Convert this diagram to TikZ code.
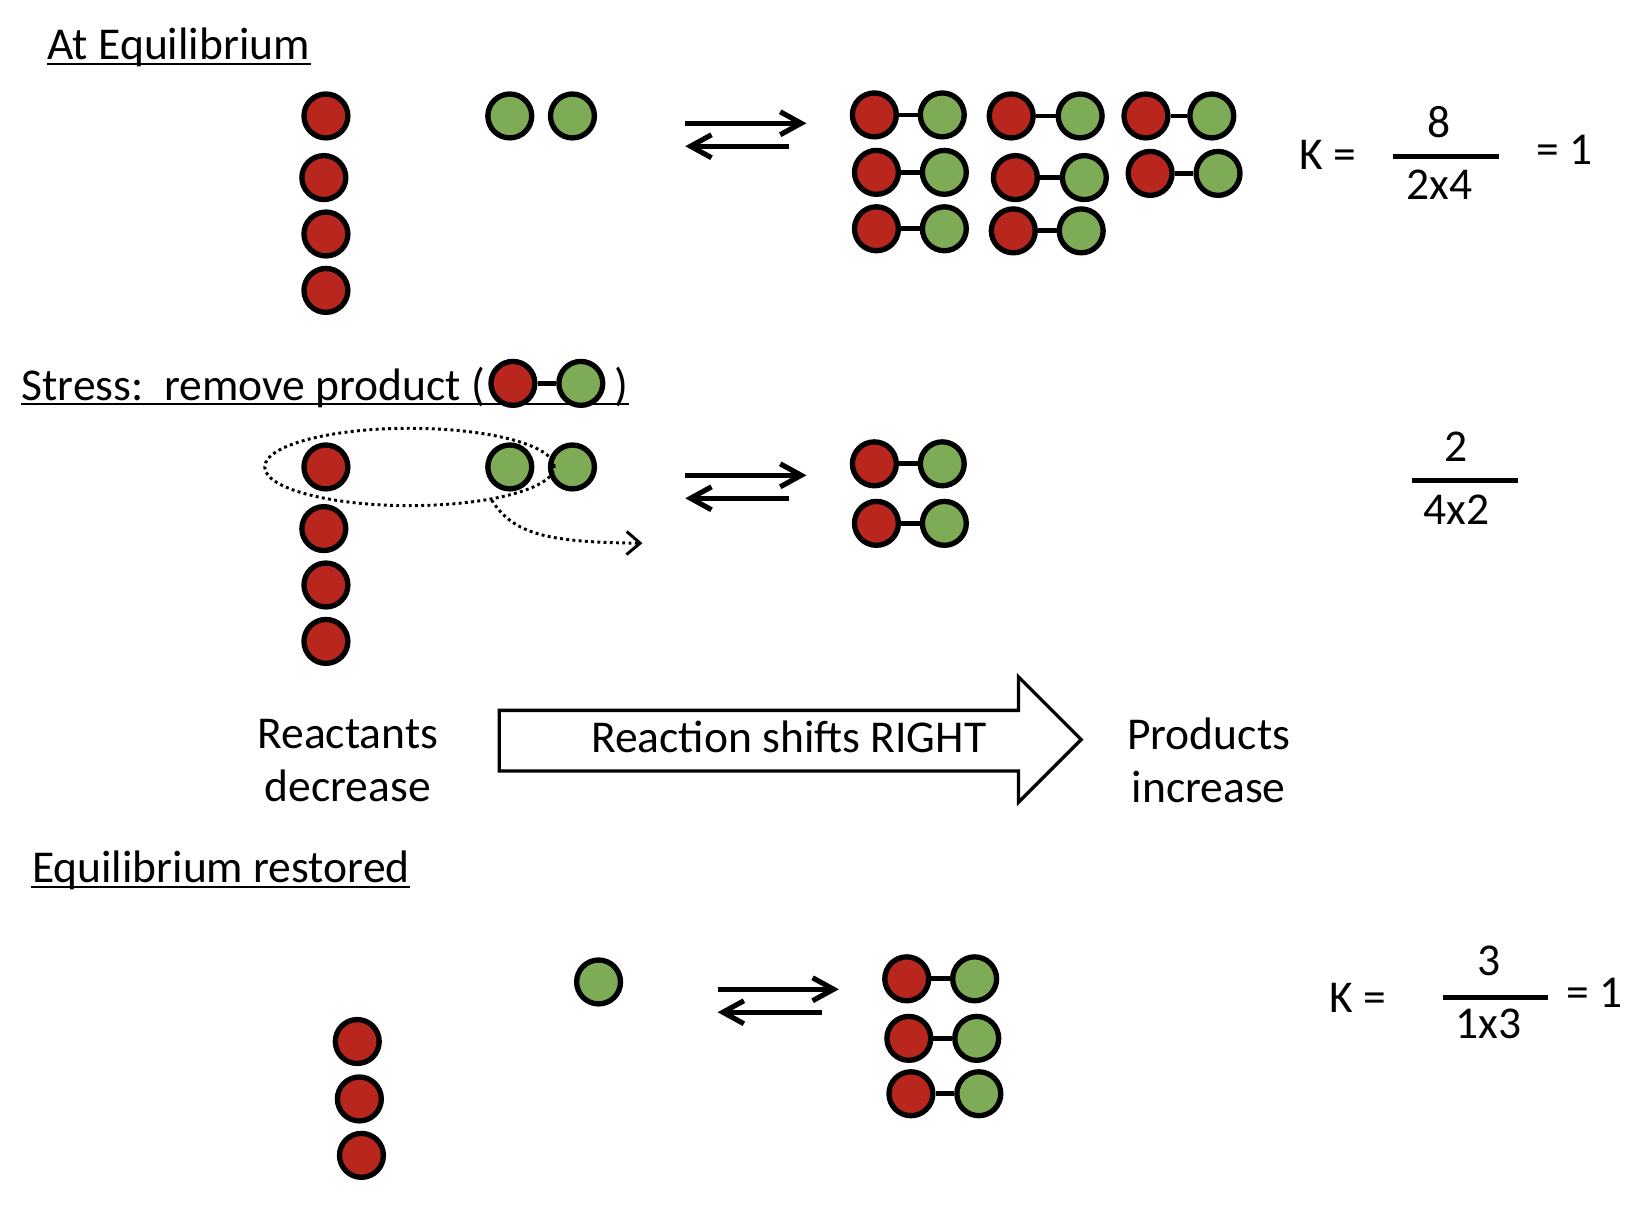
\documentclass[tikz,border=0pt]{standalone}
\usepackage{fontspec}
\setmainfont{Carlito}
\usetikzlibrary{arrows.meta}
\usetikzlibrary{shapes.geometric}
\definecolor{atomred}{HTML}{B9261D}
\definecolor{atomgreen}{HTML}{7EAB55}

\begin{document}
\frenchspacing
\begin{tikzpicture}[x=0.01cm, y=-0.01cm,
  font=\fontsize{12.4}{14.5}\selectfont,
  atom/.style={draw, circle, line width=1.45pt, minimum size=0.42cm, inner sep=0pt},
  red atom/.style={atom, fill=atomred},
  green atom/.style={atom, fill=atomgreen},
  bond/.style={line width=1.3pt},
  eqarrow/.style={line width=1.4pt, -{Straight Barb[length=0.2cm, width=0.22cm]}},
  heading/.style={anchor=base west, inner sep=0pt},
  uline/.style={line width=0.6pt},
  fracbar/.style={line width=1.2pt},
  dotline/.style={line width=0.8pt, dash pattern=on 0.8pt off 0.9pt}]
  \useasboundingbox (0,0) rectangle (1568,1161);

  % at equilibrium
  \node[heading] (headA) at (45,57) {At Equilibrium};
  \draw[uline] ([yshift=-1.15pt]headA.base west) -- ([yshift=-1.15pt]headA.base east);
  \foreach \x/\y [count=\i] in {312/111, 310/170, 312/224, 312/278}
    \node[red atom] (redA\i) at (\x,\y) {};
  \node[green atom] (greenA1) at (488,111) {};
  \node[green atom] (greenA2) at (548,111) {};
  \foreach \xr/\yr/\xg/\yg [count=\i] in {837/110/902/110, 968/111/1034/111,
      1097/111/1160/111, 839/165/904/165, 972/170/1038/170, 1101/166/1166/166,
      839/219/904/219, 970/221/1035/221}{
    \node[red atom] (prodAr\i) at (\xr,\yr) {};
    \node[green atom] (prodAg\i) at (\xg,\yg) {};
    \draw[bond] (prodAr\i) -- (prodAg\i);
  }
  \node (kA) at (1271,148) {K =};
  \node (numA) at (1378,117) {8};
  \node (denA) at (1378,177) {2x4};
  \draw[fracbar] (1333,150) -- (1435,150);
  \node (resA) at (1498,143) {= 1};

  % stress
  \node[heading] (headB) at (20,383) {Stress:\ \ remove product (\hspace{1.24cm})};
  \draw[uline] ([yshift=-1.15pt]headB.base west) -- ([yshift=-1.15pt]headB.base east);
  \node[red atom] (takenr) at (491,367) {};
  \node[green atom] (takeng) at (556,367) {};
  \draw[bond] (takenr) -- (takeng);
  \foreach \x/\y [count=\i] in {312/447, 310/506, 312/560, 312/614}
    \node[red atom] (redB\i) at (\x,\y) {};
  \node[green atom] (greenB1) at (488,447) {};
  \node[green atom] (greenB2) at (548,447) {};
  \foreach \xr/\yr/\xg/\yg [count=\i] in {837/444/902/444, 839/501/904/501}{
    \node[red atom] (prodBr\i) at (\xr,\yr) {};
    \node[green atom] (prodBg\i) at (\xg,\yg) {};
    \draw[bond] (prodBr\i) -- (prodBg\i);
  }
  \node[draw, ellipse, dotline, minimum width=2.77cm, minimum height=0.74cm] (grab) at (392,447) {};
  \coordinate (away) at (615,520);
  \draw[dotline, -{Straight Barb[length=0.13cm, width=0.22cm]}] (grab.-22) .. controls (492,512) and (525,519) .. (away);
  \node (numB) at (1394,428) {2};
  \node (denB) at (1394,488) {4x2};
  \draw[fracbar] (1352,460) -- (1453,460);

  % shift
  \draw[line width=0.9pt, fill=white] (478,680) -- (975,680) -- (975,648) -- (1035,708)
    -- (975,768) -- (975,738) -- (478,738) -- cycle;
  \node (shift) at (755,705) {Reaction shifts RIGHT};
  \node[align=center] (react) at (333,728) {Reactants\\decrease};
  \node[align=center] (prod) at (1157,728) {Products\\increase};

  % restored
  \node[heading] (headC) at (30,845) {Equilibrium restored};
  \draw[uline] ([yshift=-1.15pt]headC.base west) -- ([yshift=-1.15pt]headC.base east);
  \node[green atom] (greenC1) at (573,940) {};
  \foreach \x/\y [count=\i] in {342/997, 344/1052, 346/1106}
    \node[red atom] (redC\i) at (\x,\y) {};
  \foreach \xr/\yr/\xg/\yg [count=\i] in {868/937/933/937, 870/994/935/994, 872/1047/937/1047}{
    \node[red atom] (prodCr\i) at (\xr,\yr) {};
    \node[green atom] (prodCg\i) at (\xg,\yg) {};
    \draw[bond] (prodCr\i) -- (prodCg\i);
  }
  \node (kC) at (1300,955) {K =};
  \node (numC) at (1425,920) {3};
  \node (denC) at (1425,980) {1x3};
  \draw[fracbar] (1381,955) -- (1482,955);
  \node (resC) at (1526,950) {= 1};

  % equilibrium arrows
  \foreach \s/\x/\y/\len in {A/656/118/99, B/656/455/99, C/687/947/100}{
    \coordinate (fwd\s) at (\x,\y);
    \coordinate (fwdend\s) at (\x+116,\y);
    \coordinate (back\s) at (\x+\len,\y+22);
    \coordinate (backend\s) at (\x,\y+22);
    \draw[eqarrow] (fwd\s) -- (fwdend\s);
    \draw[eqarrow] (back\s) -- (backend\s);
  }
\end{tikzpicture}
\end{document}
